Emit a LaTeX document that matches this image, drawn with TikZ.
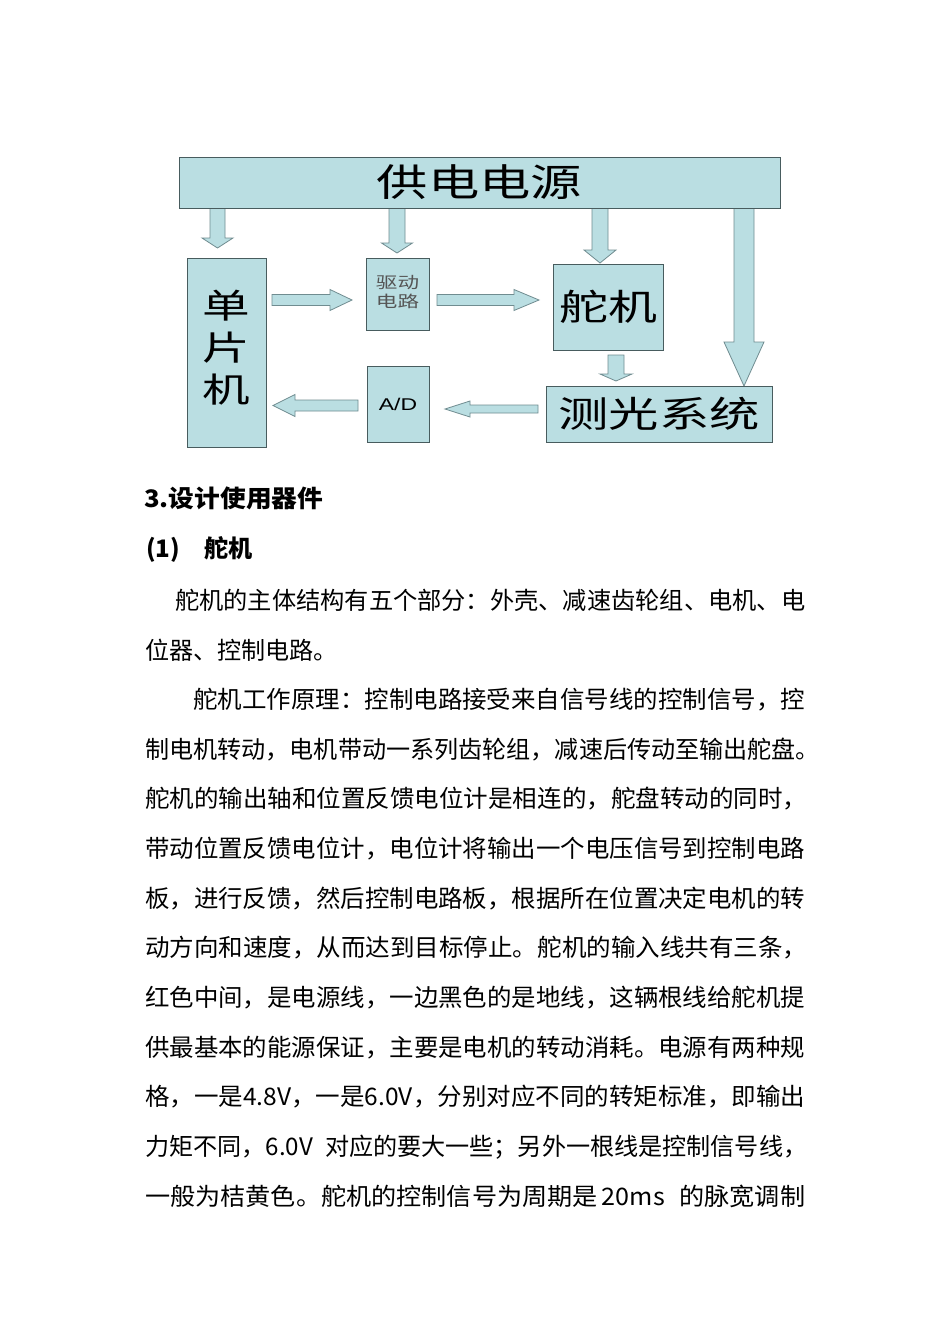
\documentclass[tikz,border=0pt]{standalone}
\usepackage{fontspec}
\setmainfont{Noto Sans CJK SC}
\newfontfamily\latinsans{Liberation Sans}
\usepackage{graphicx}
\usetikzlibrary{calc,backgrounds}
\definecolor{boxfill}{RGB}{186,222,226}
\definecolor{boxline}{RGB}{72,92,94}
\definecolor{arrline}{RGB}{112,140,144}
\definecolor{drivetext}{RGB}{85,85,85}
% #1 extra options, #2 start coordinate, #3 tip coordinate,
% #4 shaft half width, #5 head half width, #6 head length
\newcommand\blockarrow[6][]{%
  \coordinate (bahead) at ($(#3)!#6!(#2)$);
  \draw[barr,#1] ($(#2)!#4!90:(#3)$) -- ($(bahead)!#4!90:(#3)$) -- ($(bahead)!#5!90:(#3)$)
    -- (#3) -- ($(bahead)!#5!-90:(#3)$) -- ($(bahead)!#4!-90:(#3)$) -- ($(#2)!#4!-90:(#3)$) -- cycle;}
% a justified text line: stretched horizontally to the given width
\newcommand\jline[2]{\resizebox{#1}{\height}{#2}}
\begin{document}
\begin{tikzpicture}[x=1pt,y=-1pt,
  box/.style={draw=boxline, line width=0.9pt, fill=boxfill, inner sep=0pt, outer sep=0pt},
  barr/.style={draw=arrline, line width=0.8pt, fill=boxfill, line join=miter},
  bodytext/.style={anchor=base west, inner sep=0pt, font=\fontsize{24.1}{29}\selectfont},
  headtext/.style={bodytext, font=\fontsize{24.1}{29}\selectfont\bfseries}]
\useasboundingbox (0,0) rectangle (950,1344);

% boxes
\node[box, minimum width=601pt, minimum height=51pt] (power) at (479.5,182.5)
  {\fontsize{38}{42}\selectfont\scalebox{1.35}[1]{供电电源}};
\node[box, minimum width=79pt, minimum height=189pt] (mcu) at (226.5,352.5)
  {\fontsize{34}{42}\selectfont\scalebox{1.4}[1]{\begin{tabular}{@{}c@{}}单\\片\\机\end{tabular}}};
\node[box, minimum width=63pt, minimum height=72pt] (drive) at (397.5,294)
  {\fontsize{16}{17}\selectfont\color{drivetext}\scalebox{1.35}[1]{\begin{tabular}{@{}c@{}}驱动\\电路\end{tabular}}};
\node[box, minimum width=110pt, minimum height=86pt] (servo) at (608,307)
  {\fontsize{36}{40}\selectfont\scalebox{1.36}[1]{舵机}};
\node[box, minimum width=62pt, minimum height=76pt] (ad) at (398,404)
  {\latinsans\fontsize{17}{20}\selectfont\scalebox{1.35}[1]{A/D}};
\node[box, minimum width=226pt, minimum height=56pt] (meter) at (659,414)
  {\fontsize{36}{40}\selectfont\scalebox{1.4}[1]{测光系统}};

% connector end points
\coordinate (a1s) at (power.south -| 217.5,0);
\coordinate (a1e) at (217.5,248);
\coordinate (a2s) at (power.south -| 397,0);
\coordinate (a2e) at (397,253);
\coordinate (a3s) at (power.south -| 600,0);
\coordinate (a3e) at (600,263);
\coordinate (a4s) at (power.south -| 744,0);
\coordinate (a4e) at (meter.north -| 744,0);
\coordinate (a5s) at (616,355);
\coordinate (a5e) at (616,381);
\coordinate (h1s) at (272,300);
\coordinate (h1e) at (352,300);
\coordinate (h2s) at (437,300);
\coordinate (h2e) at (539,300);
\coordinate (h3s) at (358,405.5);
\coordinate (h3e) at (273,405.5);
\coordinate (h4s) at (538,409);
\coordinate (h4e) at (445,409);

\begin{scope}[on background layer]
  \fill[white] (0,0) rectangle (950,1344);
  \blockarrow{a1s}{a1e}{7.5pt}{15.5pt}{10pt}
  \blockarrow{a2s}{a2e}{8pt}{15.5pt}{10pt}
  \blockarrow{a3s}{a3e}{8pt}{16pt}{13pt}
  \blockarrow{a4s}{a4e}{10pt}{20pt}{44pt}
  \blockarrow{a5s}{a5e}{8pt}{16pt}{7pt}
  \blockarrow{h1s}{h1e}{5.5pt}{10.5pt}{22pt}
  \blockarrow{h2s}{h2e}{5.5pt}{10.5pt}{25pt}
  \blockarrow{h3s}{h3e}{5.5pt}{11pt}{22pt}
  \blockarrow{h4s}{h4e}{4pt}{8pt}{25pt}
\end{scope}

% text below the diagram
\node[headtext] (sec) at (144,507) {\jline{179pt}{3.设计使用器件}};
\node[headtext] (sub) at (146,557) {(1)};
\node[headtext] (subname) at (204,557) {舵机};
\node[bodytext] (l1) at (175,609) {\jline{630pt}{舵机的主体结构有五个部分：外壳、减速齿轮组、电机、电}};
\node[bodytext] (l2) at (145,659) {位器、控制电路。};
\node[bodytext] (l3) at (193,708) {\jline{612pt}{舵机工作原理：控制电路接受来自信号线的控制信号，控}};
\node[bodytext] (l4) at (145,758) {制电机转动，电机带动一系列齿轮组，减速后传动至输出舵盘。};
\node[bodytext] (l5) at (145,807) {\jline{662pt}{舵机的输出轴和位置反馈电位计是相连的，舵盘转动的同时，}};
\node[bodytext] (l6) at (145,857) {\jline{660pt}{带动位置反馈电位计，电位计将输出一个电压信号到控制电路}};
\node[bodytext] (l7) at (145,907) {\jline{660pt}{板，进行反馈，然后控制电路板，根据所在位置决定电机的转}};
\node[bodytext] (l8) at (145,956) {\jline{662pt}{动方向和速度，从而达到目标停止。舵机的输入线共有三条，}};
\node[bodytext] (l9) at (145,1006) {\jline{660pt}{红色中间，是电源线，一边黑色的是地线，这辆根线给舵机提}};
\node[bodytext] (l10) at (145,1056) {\jline{660pt}{供最基本的能源保证，主要是电机的转动消耗。电源有两种规}};
\node[bodytext] (l11) at (145,1105) {\jline{660pt}{格，一是4.8V，一是6.0V，分别对应不同的转矩标准，即输出}};
\node[bodytext] (l12) at (145,1155) {\jline{662pt}{力矩不同，6.0V\hspace{12pt}对应的要大一些；另外一根线是控制信号线，}};
\node[bodytext] (l13) at (145,1205) {\jline{660pt}{一般为桔黄色。舵机的控制信号为周期是\hspace{4pt}20ms\hspace{14pt}的脉宽调制}};
\end{tikzpicture}
\end{document}
